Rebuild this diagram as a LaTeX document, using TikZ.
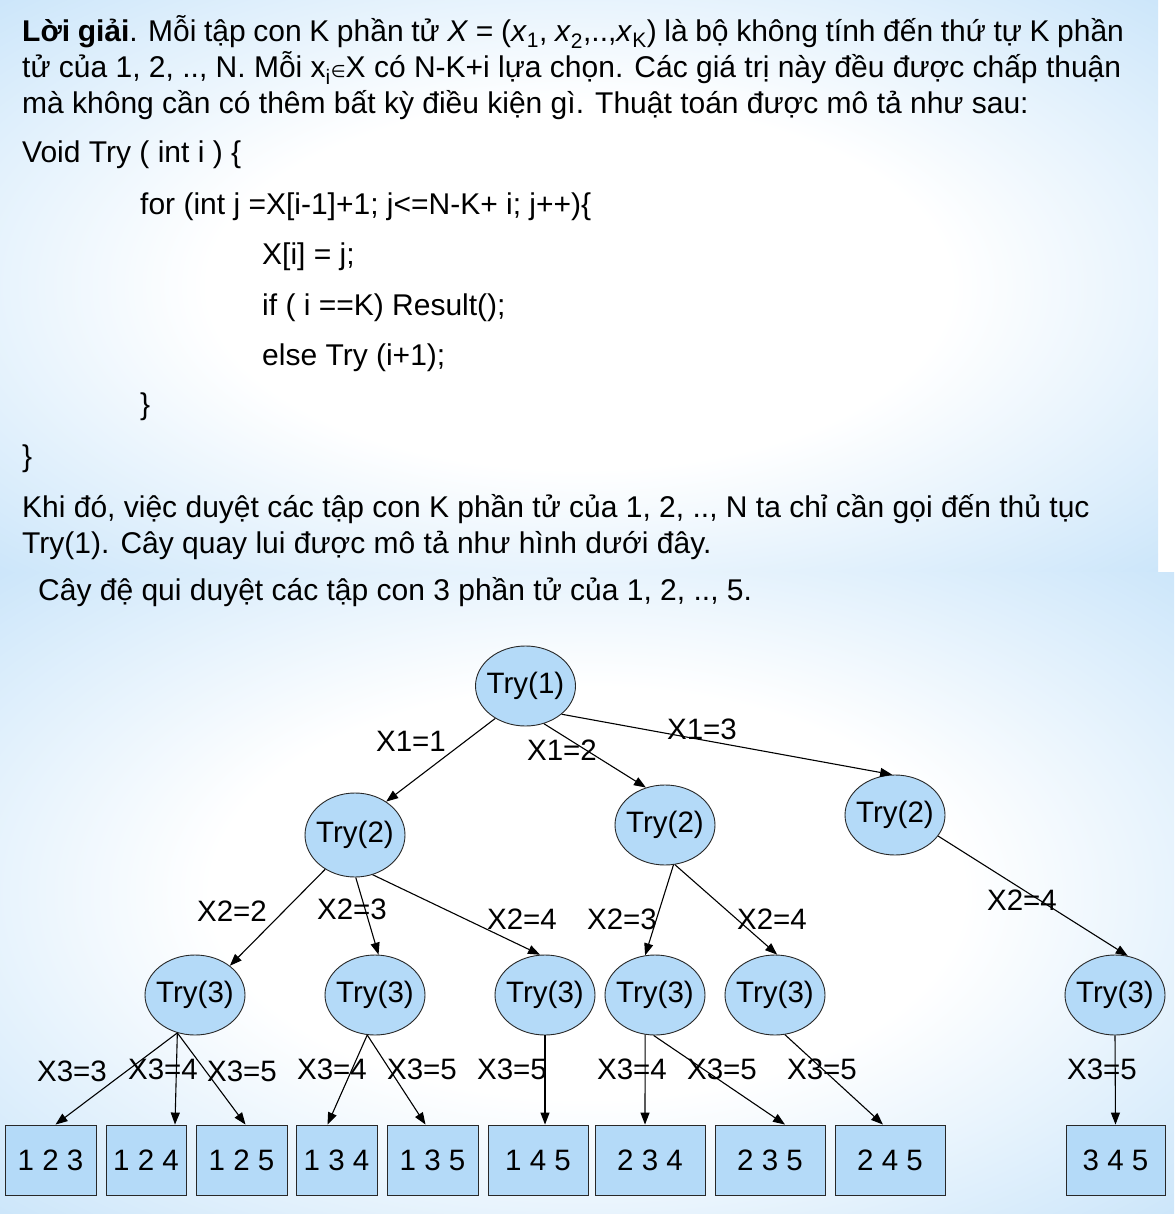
\documentclass[tikz,border=0pt]{standalone}
\usepackage{fontspec}
\setmainfont{Liberation Sans}
\newfontfamily\djv{DejaVu Sans}
\usetikzlibrary{shapes.geometric,arrows.meta,calc}
\definecolor{nodeblue}{RGB}{180,218,248}
\definecolor{bgblue}{RGB}{166,211,246}
\definecolor{edgegray}{RGB}{40,40,40}
\pgfdeclareradialshading{panelshade}{\pgfpoint{0bp}{0bp}}{color(0bp)=(white); color(16bp)=(white); color(50bp)=(bgblue); color(72bp)=(bgblue)}
\newcommand\trytxt[1]{\makebox[0pt]{#1}}
\begin{document}
\begin{tikzpicture}[x=1pt,y=-1pt,
  every node/.style={font=\fontsize{29.5}{36}\selectfont},
  txt/.style={anchor=base west,inner sep=0pt,font=\fontsize{30}{36}\selectfont},
  tryn/.style={ellipse,draw=edgegray,line width=0.9pt,fill=nodeblue,minimum width=100pt,minimum height=80pt,inner sep=0pt},
  leaf/.style={rectangle,draw=edgegray,line width=0.9pt,fill=nodeblue,minimum height=70pt,inner sep=0pt},
  lbl/.style={inner sep=0pt},
  arr/.style={line width=1.1pt,-{Triangle[length=12pt,width=9pt]}}]
\useasboundingbox (0,0) rectangle (1174,1214);
\fill[white] (0,0) rectangle (1174,1214);
\shade[shading=panelshade] (0,0) rectangle (1158,572);
\shade[shading=panelshade] (0,572) rectangle (1174,1214);

% top text
\node[txt] (p1) at (22,42) {\spaceskip=7.6pt plus 1pt minus 1pt\textbf{Lời giải}. Mỗi tập con K phần tử \textit{X} = (\textit{x}\textsubscript{1}, \textit{x}\textsubscript{2},..,\textit{x}\textsubscript{K}) là bộ không tính đến thứ tự K phần};
\node[txt] (p2) at (22,78) {tử của 1, 2, .., N. Mỗi x\textsubscript{i}{\djv\fontsize{17}{17}\selectfont ∈}X có N-K+i lựa chọn. Các giá trị này đều được chấp thuận};
\node[txt] (p3) at (22,114) {mà không cần có thêm bất kỳ điều kiện gì. Thuật toán được mô tả như sau:};
\node[txt] (c1) at (22,163) {Void Try ( int i ) \{};
\node[txt] (c2) at (140,215) {for (int j =X[i-1]+1; j<=N-K+ i; j++)\{};
\node[txt] (c3) at (262,265) {X[i] = j;};
\node[txt] (c4) at (262,315) {if ( i ==K) Result();};
\node[txt] (c5) at (262,365) {else Try (i+1);};
\node[txt] (c6) at (140,414) {\}};
\node[txt] (c7) at (22,466) {\}};
\node[txt] (p4) at (22,517) {Khi đó, việc duyệt các tập con K phần tử của 1, 2, .., N ta chỉ cần gọi đến thủ tục};
\node[txt] (p5) at (22,553) {Try(1). Cây quay lui được mô tả như hình dưới đây.};
\node[txt] (cap) at (38,600) {Cây đệ qui duyệt các tập con 3 phần tử của 1, 2, .., 5.};

% tree nodes
\node[tryn] (t1) at (525.5,686) {\trytxt{Try(1)}};
\node[tryn,minimum height=84pt] (t2a) at (355,835) {\trytxt{Try(2)}};
\node[tryn] (t2b) at (665,825) {\trytxt{Try(2)}};
\node[tryn] (t2c) at (895,815) {\trytxt{Try(2)}};
\node[tryn] (t3a) at (195,995) {\trytxt{Try(3)}};
\node[tryn] (t3b) at (375,995) {\trytxt{Try(3)}};
\node[tryn] (t3c) at (545,995) {\trytxt{Try(3)}};
\node[tryn] (t3d) at (655,995) {\trytxt{Try(3)}};
\node[tryn] (t3e) at (775,995) {\trytxt{Try(3)}};
\node[tryn] (t3f) at (1115,995) {\trytxt{Try(3)}};

\node[leaf,minimum width=91pt] (b1) at (50.5,1160) {1 2 3};
\node[leaf,minimum width=80pt] (b2) at (146,1160) {1 2 4};
\node[leaf,minimum width=91pt] (b3) at (241.5,1160) {1 2 5};
\node[leaf,minimum width=81pt] (b4) at (336.5,1160) {1 3 4};
\node[leaf,minimum width=91pt] (b5) at (432.5,1160) {1 3 5};
\node[leaf,minimum width=100pt] (b6) at (538,1160) {1 4 5};
\node[leaf,minimum width=110pt] (b7) at (650,1160) {2 3 4};
\node[leaf,minimum width=110pt] (b8) at (770,1160) {2 3 5};
\node[leaf,minimum width=110pt] (b9) at (890,1160) {2 4 5};
\node[leaf,minimum width=99pt] (b10) at (1115.5,1160) {3 4 5};

% edges level 1
\draw[arr] (t1.-133) -- (t2a.47);
\draw[arr] (t1.-64) -- (t2b.117);
\draw[arr] (t1.-38) -- (t2c.94);
% level 2
\draw[arr] (t2a.-131) -- (t3a.40);
\draw[arr] (t2a.-89) -- (t3b.85);
\draw[arr] (t2a.-66) -- (t3c.97);
\draw[arr] (t2b.-78) -- (t3d.104);
\draw[arr] (t2b.-76) -- (t3e.87);
\draw[arr] (t2c.-26) -- (t3f.72);
% level 3
\draw[arr] (t3a.-115) -- ([xshift=5pt]b1.north);
\draw[arr] (t3a.-115) -- ([xshift=29pt]b2.north);
\draw[arr] (t3a.-115) -- ([xshift=4pt]b3.north);
\draw[arr] (t3b.-101) -- ([xshift=-9pt]b4.north);
\draw[arr] (t3b.-101) -- ([xshift=-7pt]b5.north);
\draw[arr] (t3c.-90) -- ([xshift=7pt]b6.north);
\draw[arr] (t3d.-104) -- ([xshift=-5pt]b7.north);
\draw[arr] (t3d.-92) -- ([xshift=15pt]b8.north);
\draw[arr] (t3e.-76) -- ([xshift=-7pt]b9.north);
\draw[arr] (t3f.-90) -- (b10.north);

% labels
\node[lbl] (l11) at (411,741) {X1=1};
\node[lbl] (l12) at (562,750) {X1=2};
\node[lbl] (l13) at (702,729) {X1=3};
\node[lbl] (l22a) at (232,911) {X2=2};
\node[lbl] (l23a) at (352,909) {X2=3};
\node[lbl] (l24a) at (522,919) {X2=4};
\node[lbl] (l23b) at (622,919) {X2=3};
\node[lbl] (l24b) at (772,919) {X2=4};
\node[lbl] (l24c) at (1022,900) {X2=4};
\node[lbl] (l33a) at (72,1071) {X3=3};
\node[lbl] (l34a) at (163,1069) {X3=4};
\node[lbl] (l35a) at (242,1071) {X3=5};
\node[lbl] (l34b) at (332,1069) {X3=4};
\node[lbl] (l35b) at (422,1069) {X3=5};
\node[lbl] (l35c) at (512,1069) {X3=5};
\node[lbl] (l34d) at (632,1069) {X3=4};
\node[lbl] (l35d) at (722,1069) {X3=5};
\node[lbl] (l35e) at (822,1069) {X3=5};
\node[lbl] (l35f) at (1102,1069) {X3=5};
\end{tikzpicture}
\end{document}
